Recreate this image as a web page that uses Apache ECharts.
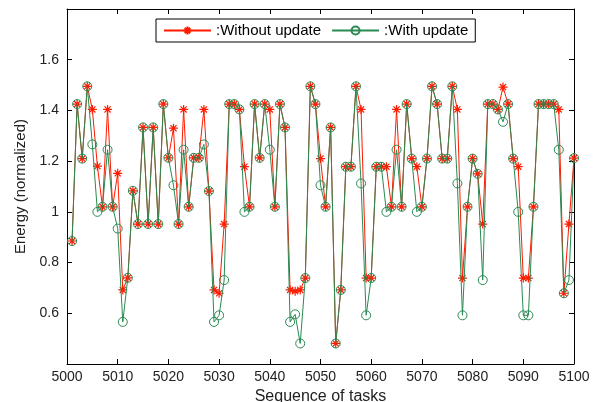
<!DOCTYPE html>
<html>
<head>
<meta charset="utf-8">
<script src="https://cdn.jsdelivr.net/npm/echarts@6/dist/echarts.min.js"></script>
<style>
html,body{margin:0;padding:0;background:#fff;}
#chart{width:597px;height:402px;}
</style>
</head>
<body>
<div id="chart"></div>
<script>
// Task numbers (x)
var tasks = [
 5001,5002,5003,5004,5005,5006,5007,5008,5009,5010,
 5011,5012,5013,5014,5015,5016,5017,5018,5019,5020,
 5021,5022,5023,5024,5025,5026,5027,5028,5029,5030,
 5031,5032,5033,5034,5035,5036,5037,5038,5039,5040,
 5041,5042,5043,5044,5045,5046,5047,5048,5049,5050,
 5051,5052,5053,5054,5055,5056,5057,5058,5059,5060,
 5061,5062,5063,5064,5065,5066,5067,5068,5069,5070,
 5071,5072,5073,5074,5075,5076,5077,5078,5079,5080,
 5081,5082,5083,5084,5085,5086,5087,5088,5089,5090,
 5091,5092,5093,5094,5095,5096,5097,5098,5099,5100
];
// Energy without update
var withoutUpdate = [
 0.885,1.425,1.21,1.495,1.404,1.18,1.02,1.404,1.02,1.152,
 0.692,0.74,1.083,0.952,1.333,0.952,1.333,0.952,1.425,1.213,
 1.33,0.952,1.404,1.02,1.213,1.213,1.404,1.082,0.692,0.679,
 0.952,1.425,1.425,1.404,1.178,1.02,1.425,1.213,1.425,1.404,
 1.02,1.425,1.333,0.692,0.687,0.692,0.739,1.495,1.425,1.21,
 1.02,1.333,0.481,0.692,1.178,1.178,1.495,1.404,0.739,0.739,
 1.178,1.178,1.178,1.02,1.404,1.02,1.425,1.21,1.178,1.02,
 1.21,1.495,1.425,1.21,1.21,1.495,1.404,0.739,1.02,1.21,
 1.15,0.952,1.425,1.425,1.404,1.492,1.425,1.21,1.178,0.739,
 0.739,1.02,1.425,1.425,1.425,1.425,1.404,0.679,0.952,1.212
];
// Energy with update
var withUpdate = [
 0.885,1.425,1.21,1.495,1.266,1.0,1.02,1.245,1.02,0.934,
 0.566,0.74,1.083,0.952,1.333,0.952,1.333,0.952,1.425,1.213,
 1.105,0.952,1.245,1.02,1.213,1.213,1.266,1.082,0.566,0.592,
 0.731,1.425,1.425,1.404,1.0,1.02,1.425,1.213,1.425,1.245,
 1.02,1.425,1.333,0.566,0.596,0.481,0.739,1.495,1.425,1.105,
 1.02,1.333,0.481,0.692,1.178,1.178,1.495,1.112,0.592,0.739,
 1.178,1.178,1.0,1.02,1.245,1.02,1.425,1.21,1.0,1.02,
 1.21,1.495,1.425,1.21,1.21,1.495,1.112,0.592,1.02,1.21,
 1.15,0.731,1.425,1.425,1.404,1.355,1.425,1.21,1.0,0.592,
 0.592,1.02,1.425,1.425,1.425,1.425,1.245,0.679,0.731,1.212
];
var seriesNames = ['Without update', 'With update'];
var yTicks = [0.6, 0.8, 1, 1.2, 1.4, 1.6];

function pairs(ys){ return tasks.map(function(t,i){ return [t, ys[i]]; }); }

var RED = '#ff1a00';
var GREEN = '#2a8a52';
var TXT = '#222';
var FONT = 'Liberation Sans, Arial, sans-serif';
var star = 'path://M5,0L5,10M0,5L10,5M1.6,1.6L8.4,8.4M1.6,8.4L8.4,1.6';

var chart = echarts.init(document.getElementById('chart'), null, {renderer:'canvas'});
var axisCommon = {
  axisLine: {show:true, onZero:false, lineStyle:{color:'#000', width:1}},
  axisTick: {show:true, inside:true, length:5, lineStyle:{color:'#000', width:1}},
  splitLine: {show:false}
};
chart.setOption({
  animation: false,
  backgroundColor: '#fff',
  textStyle: {fontFamily: FONT},
  grid: {left:67, right:23, top:9, bottom:38, containLabel:false, outerBoundsMode:'none'},
  legend: {
    left: 156, top: 19,
    orient: 'horizontal',
    data: seriesNames,
    formatter: ':{name}',
    itemWidth: 47, itemHeight: 10, itemGap: 10,
    padding: [4, 7, 4, 7],
    borderColor: '#000', borderWidth: 1, borderRadius: 0,
    backgroundColor: '#fff',
    textStyle: {color:'#000', fontSize:15, fontFamily: FONT}
  },
  xAxis: [
    Object.assign({
      type:'value', min:5000, max:5100, interval:10, position:'bottom',
      name:'Sequence of tasks', nameLocation:'middle', nameGap:21,
      nameTextStyle:{color:TXT, fontSize:16, fontFamily:FONT},
      axisLabel:{color:TXT, fontSize:14, margin:6, fontFamily:FONT,
        formatter:function(v){ return String(v); }}
    }, axisCommon),
    Object.assign({
      type:'value', min:5000, max:5100, interval:10, position:'top',
      axisLabel:{show:false}
    }, axisCommon)
  ],
  yAxis: [
    Object.assign({
      type:'value', min:0.4, max:1.8, interval:0.2, position:'left',
      name:'Energy (normalized)', nameLocation:'middle', nameGap:30,
      nameTextStyle:{color:TXT, fontSize:15, fontFamily:FONT},
      axisLabel:{color:TXT, fontSize:14, margin:8, fontFamily:FONT,
        showMinLabel:false, showMaxLabel:false,
        formatter:function(v){ var r=Math.round(v*10)/10; return yTicks.indexOf(r)>=0 ? String(r) : ''; }}
    }, axisCommon),
    Object.assign({
      type:'value', min:0.4, max:1.8, interval:0.2, position:'right',
      axisLabel:{show:false}
    }, axisCommon)
  ],
  series: [
    {
      name: seriesNames[0], type:'line', xAxisIndex:0, yAxisIndex:0,
      data: pairs(withoutUpdate),
      symbol: star, symbolSize: 9, symbolKeepAspect:true, showAllSymbol:true,
      lineStyle:{color:RED, width:1},
      itemStyle:{color:'rgba(0,0,0,0)', borderColor:RED, borderWidth:1.2},
      emphasis:{disabled:true}, z:2
    },
    {
      name: seriesNames[1], type:'line', xAxisIndex:0, yAxisIndex:0,
      data: pairs(withUpdate),
      symbol: 'circle', symbolSize: 9, showAllSymbol:true,
      lineStyle:{color:GREEN, width:1},
      itemStyle:{color:'rgba(0,0,0,0)', borderColor:GREEN, borderWidth:1},
      emphasis:{disabled:true}, z:3
    }
  ]
});
</script>
</body>
</html>
